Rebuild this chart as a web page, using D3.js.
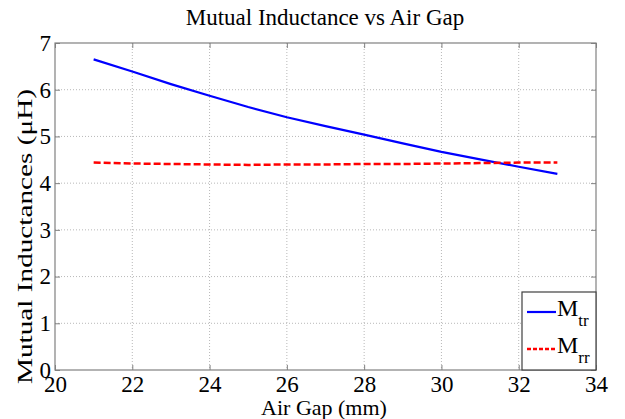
<!DOCTYPE html>
<html>
<head>
<meta charset="utf-8">
<script src="https://cdn.jsdelivr.net/npm/d3@7"></script>
<style>
  html, body { margin: 0; padding: 0; background: #fff; }
  svg { display: block; font-family: "Liberation Serif", "Times New Roman", serif; }
</style>
</head>
<body>
<svg id="chart" width="625" height="419"></svg>
<script>
// Air gap sweep (mm) and the two mutual inductances (µH)
const airGap = [21, 22, 23, 24, 25, 26, 27, 28, 29, 30, 31, 32, 33];
const mTr = [6.65, 6.39, 6.12, 5.87, 5.63, 5.41, 5.22, 5.04, 4.85, 4.67, 4.51, 4.35, 4.20];
const mRr = [4.44, 4.42, 4.41, 4.40, 4.39, 4.40, 4.40, 4.41, 4.41, 4.42, 4.43, 4.44, 4.44];
const xTicks = [20, 22, 24, 26, 28, 30, 32, 34];
const yTicks = [0, 1, 2, 3, 4, 5, 6, 7];
const seriesNames = ["tr", "rr"];

const serif = "'Liberation Serif', 'Times New Roman', serif";
const svg = d3.select("#chart");
const plotL = 55, plotR = 596, plotT = 43, plotB = 370;

const x = d3.scaleLinear().domain([20, 34]).range([plotL, plotR]);
const y = d3.scaleLinear().domain([0, 7]).range([plotB, plotT]);

const axisColor = "#808080";

// dotted grid
const grid = svg.append("g");
grid.selectAll("line.gx").data(xTicks.slice(1, -1)).join("line")
  .attr("x1", d => x(d)).attr("x2", d => x(d))
  .attr("y1", plotT).attr("y2", plotB)
  .attr("stroke", "#b8b8b8").attr("stroke-width", 1)
  .attr("stroke-dasharray", "1,2");
grid.selectAll("line.gy").data(yTicks.slice(1, -1)).join("line")
  .attr("x1", plotL).attr("x2", plotR)
  .attr("y1", d => y(d)).attr("y2", d => y(d))
  .attr("stroke", "#b8b8b8").attr("stroke-width", 1)
  .attr("stroke-dasharray", "1,2");

// axes with inward ticks on all four sides
function styleAxis(g) {
  g.attr("font-family", serif).attr("font-size", 23);
  g.select(".domain").remove();
  g.selectAll(".tick line").attr("stroke", axisColor);
  g.selectAll(".tick text").attr("fill", "#000").style("font-family", serif);
}
svg.append("g").attr("transform", `translate(0,${plotB})`)
  .call(d3.axisBottom(x).tickValues(xTicks).tickSizeInner(-5).tickSizeOuter(0).tickPadding(6).tickFormat(d3.format("d")))
  .call(styleAxis);
svg.append("g").attr("transform", `translate(0,${plotT})`)
  .call(d3.axisTop(x).tickValues(xTicks).tickSizeInner(-5).tickSizeOuter(0).tickFormat(""))
  .call(styleAxis);
svg.append("g").attr("transform", `translate(${plotL},0)`)
  .call(d3.axisLeft(y).tickValues(yTicks).tickSizeInner(-5).tickSizeOuter(0).tickPadding(4).tickFormat(d3.format("d")))
  .call(styleAxis);
svg.append("g").attr("transform", `translate(${plotR},0)`)
  .call(d3.axisRight(y).tickValues(yTicks).tickSizeInner(-5).tickSizeOuter(0).tickFormat(""))
  .call(styleAxis);

// plot frame
svg.append("rect")
  .attr("x", plotL).attr("y", plotT)
  .attr("width", plotR - plotL).attr("height", plotB - plotT)
  .attr("fill", "none").attr("stroke", axisColor).attr("stroke-width", 1.2);

// data lines
const line = d3.line().x(d => x(d[0])).y(d => y(d[1]));
svg.append("path")
  .datum(airGap.map((g, i) => [g, mTr[i]]))
  .attr("d", line)
  .attr("fill", "none").attr("stroke", "#0000ff").attr("stroke-width", 2.2);
svg.append("path")
  .datum(airGap.map((g, i) => [g, mRr[i]]))
  .attr("d", line)
  .attr("fill", "none").attr("stroke", "#ff0000").attr("stroke-width", 2.5)
  .attr("stroke-dasharray", "7,3");

// title and axis labels
svg.append("text")
  .attr("x", 325).attr("y", 25)
  .attr("text-anchor", "middle").style("font-size", "23px")
  .text("Mutual Inductance vs Air Gap");
svg.append("text")
  .attr("x", 324).attr("y", 415)
  .attr("text-anchor", "middle").style("font-size", "22px")
  .text("Air Gap (mm)");
svg.append("text")
  .attr("transform", "translate(32,236.5) rotate(-90)")
  .attr("text-anchor", "middle").style("font-size", "22px")
  .attr("textLength", 295).attr("lengthAdjust", "spacingAndGlyphs")
  .text("Mutual Inductances (μH)");

// legend
const lg = svg.append("g");
lg.append("rect")
  .attr("x", 522).attr("y", 292).attr("width", plotR - 522).attr("height", plotB - 292)
  .attr("fill", "#fff").attr("stroke", "#404040").attr("stroke-width", 1.2);
const legendRows = [
  { name: seriesNames[0], color: "#0000ff", dash: null, w: 2.2, ly: 312 },
  { name: seriesNames[1], color: "#ff0000", dash: "4,2", w: 2.5, ly: 349 }
];
legendRows.forEach(r => {
  lg.append("line")
    .attr("x1", 527).attr("x2", 556).attr("y1", r.ly).attr("y2", r.ly)
    .attr("stroke", r.color).attr("stroke-width", r.w)
    .attr("stroke-dasharray", r.dash);
  const t = lg.append("text").attr("x", 557).attr("y", r.ly + 4).style("font-size", "24px");
  t.append("tspan").text("M");
  t.append("tspan").attr("dy", 10).style("font-size", "17px").text(r.name);
});
</script>
</body>
</html>
